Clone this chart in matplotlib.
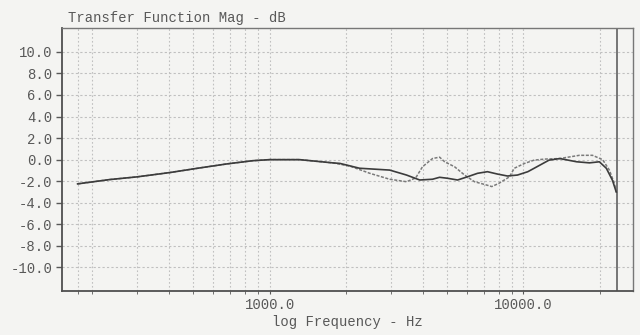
import numpy as np
import matplotlib
matplotlib.use('Agg')
import matplotlib.pyplot as plt
from matplotlib.ticker import FixedLocator, NullFormatter

# measured response, two takes (solid / dotted), Hz and dB
freq_solid = [175, 234, 300, 404, 530, 677, 857, 1000, 1310, 1770, 1890, 2260, 2970,
              3460, 3900, 4380, 4670, 5020, 5500, 6020, 6590, 7210, 7900, 8650,
              9470, 10400, 11000, 12600, 13900, 16200, 18200, 19900, 21200, 22400, 23200]
db_solid = [-2.25, -1.85, -1.6, -1.2, -0.77, -0.4, -0.1, 0.0, 0.0, -0.3, -0.35, -0.8, -0.97,
            -1.43, -1.89, -1.82, -1.64, -1.73, -1.89, -1.59, -1.27, -1.12, -1.34, -1.52,
            -1.43, -1.12, -0.81, -0.05, 0.1, -0.2, -0.3, -0.2, -0.8, -1.9, -3.0]

freq_dot = [175, 234, 300, 404, 530, 677, 857, 1000, 1310, 1770, 2070, 2480, 2970,
            3460, 3760, 4000, 4380, 4670, 4890, 5350, 5860, 6410, 7020, 7500, 8000,
            8800, 9200, 10100, 11000, 12100, 13900, 16600, 18700, 20500, 21800, 22800, 23200]
db_dot = [-2.25, -1.85, -1.6, -1.2, -0.77, -0.4, -0.1, 0.0, 0.0, -0.3, -0.6, -1.27, -1.82,
          -2.05, -1.7, -0.66, 0.1, 0.23, -0.2, -0.66, -1.43, -2.05, -2.3, -2.5, -2.2,
          -1.6, -0.8, -0.35, -0.05, 0.05, 0.1, 0.4, 0.4, 0.0, -0.97, -2.2, -3.0]

y_ticks = [10, 8, 6, 4, 2, 0, -2, -4, -6, -8, -10]
x_major = [1000, 10000]
x_minor = [175, 200, 300, 400, 500, 600, 700, 800, 900,
           2000, 3000, 4000, 5000, 6000, 7000, 8000, 9000, 20000]
end_marker = 23300

bg = '#f4f4f2'
txt = '#585858'
font = 'Liberation Mono'

fig = plt.figure(figsize=(6.4, 3.35), dpi=100, facecolor=bg)
ax = fig.add_axes([0.097, 0.131, 0.892, 0.785], facecolor=bg)

ax.set_xscale('log')
ax.set_xlim(152, 27000)
ax.set_ylim(-12.2, 12.2)

# grid
for y in y_ticks:
    ax.axhline(y, color='#c0c0c0', lw=0.8, ls=(0, (2, 2)), zorder=1)
for x in x_major + x_minor:
    ax.axvline(x, color='#c0c0c0', lw=0.8, ls=(0, (1.5, 2)), zorder=1)
ax.axvline(end_marker, color='#606060', lw=1.2, zorder=2)

ax.plot(freq_dot, db_dot, color='#7a7a7a', lw=1.1, ls=(0, (2, 1)), zorder=3)
ax.plot(freq_solid, db_solid, color='#3c3c3c', lw=1.2, zorder=4)

ax.xaxis.set_major_locator(FixedLocator(x_major))
ax.xaxis.set_minor_locator(FixedLocator(x_minor))
ax.xaxis.set_minor_formatter(NullFormatter())
ax.set_xticklabels(['%.1f' % v for v in x_major])
ax.set_yticks(y_ticks)
ax.set_yticklabels(['%.1f' % v for v in y_ticks])

ax.tick_params(axis='both', which='both', colors=txt, labelsize=10, direction='out')
ax.tick_params(axis='y', length=4, width=1, pad=3)
ax.tick_params(axis='x', which='major', length=2, pad=3)
ax.tick_params(axis='x', which='minor', length=2)
for lab in ax.get_xticklabels() + ax.get_yticklabels():
    lab.set_fontfamily(font)

for s in ['left', 'bottom']:
    ax.spines[s].set_color('#505050')
    ax.spines[s].set_linewidth(1.3)
for s in ['top', 'right']:
    ax.spines[s].set_color('#777777')
    ax.spines[s].set_linewidth(1.0)

ax.set_xlabel('log Frequency - Hz', family=font, fontsize=10, color=txt, labelpad=2)
fig.text(0.106, 0.945, 'Transfer Function Mag - dB', family=font, fontsize=10,
         color=txt, va='center', ha='left')

fig.savefig('out.png', dpi=100, facecolor=bg)
